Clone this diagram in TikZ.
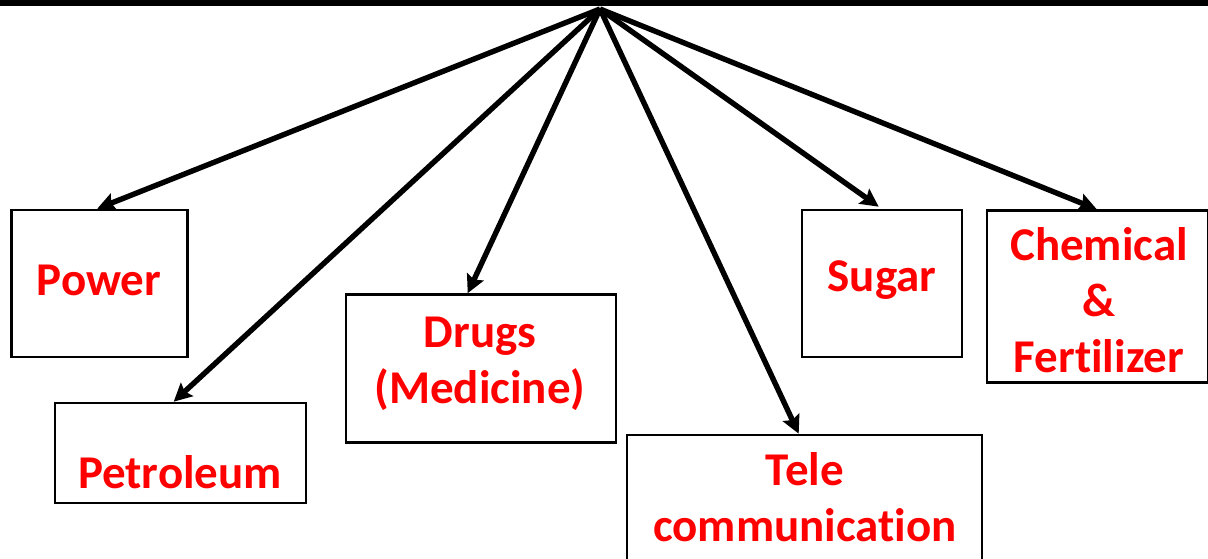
\documentclass[tikz,border=0pt]{standalone}
\usepackage{fontspec}
\setmainfont{Carlito}[Ligatures={NoCommon}]
\usetikzlibrary{arrows.meta,calc}
\definecolor{labelred}{RGB}{255,0,0}
\begin{document}
\begin{tikzpicture}[x=1pt,y=-1pt,
  box/.style={draw=black,line width=2.6pt,fill=white,inner sep=0pt},
  lbl/.style={text=labelred,font=\bfseries\fontsize{47}{56}\selectfont,align=center,inner sep=0pt},
  feed/.style={line width=5.4pt,-{Stealth[length=18pt,width=18pt,inset=3pt]}}]
\useasboundingbox (0,0) rectangle (1208,559);
% top bar
\fill[black] (0,0) rectangle (1208,6.5);
\coordinate (src) at (600,9);
% boxes
\node[box,minimum width=176pt,minimum height=147pt] (power) at (99.5,283.5) {};
\node[box,minimum width=251pt,minimum height=100pt] (petro) at (180.5,453) {};
\node[box,minimum width=270pt,minimum height=148pt] (drugs) at (481,368.5) {};
\node[box,minimum width=355pt,minimum height=140pt] (tele) at (804.5,505) {};
\node[box,minimum width=160pt,minimum height=147pt] (sugar) at (882,283.5) {};
\node[box,minimum width=221pt,minimum height=172pt] (chem) at (1097.5,296.5) {};
% labels
\node[lbl] (tpower) at (99,280) {Power};
\node[lbl] (tpetro) at (180,472) {Petroleum};
\node[lbl] (tdrugs) at (480,364) {Drugs\\(Medicine)};
\node[lbl] (ttele) at (805,497) {Tele\\communication};
\node[lbl] (tsugar) at (882,280) {Sugar};
\node[lbl] (tchem) at (1099,300) {Chemical\\\&\\Fertilizer};
% connectors
\draw[feed] (src) -- ($(power.north west)+(87,0)$);
\draw[feed] (src) -- ($(petro.north west)+(120,0)$);
\draw[feed] (src) -- ($(drugs.north west)+(123,0)$);
\draw[feed] (src) -- ($(tele.north west)+(173,0)$);
\draw[feed] (src) -- ($(sugar.north west)+(78,-2)$);
\draw[feed] (src) -- ($(chem.north west)+(111,0)$);
\end{tikzpicture}
\end{document}
